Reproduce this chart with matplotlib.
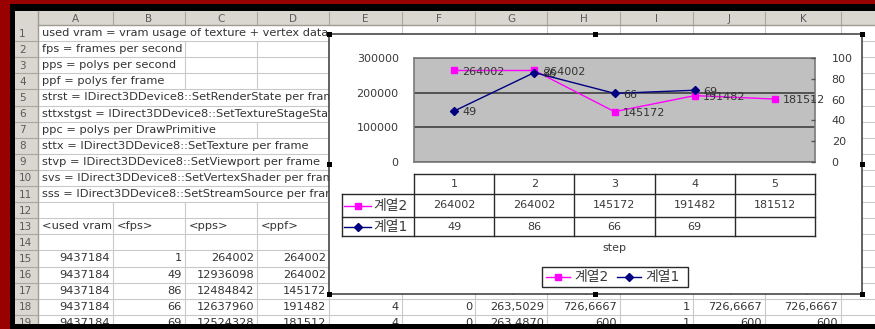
import matplotlib
matplotlib.use("Agg")
import matplotlib.pyplot as plt
from matplotlib.patches import Rectangle
from matplotlib.ticker import FuncFormatter

plt.rcParams["font.family"] = ["DejaVu Sans", "Noto Sans CJK KR"]

# ---------------- worksheet contents ----------------
col_letters = ["A", "B", "C", "D", "E", "F", "G", "H", "I", "J", "K"]
notes = [
    "used vram = vram usage of texture + vertex data",
    "fps = frames per second",
    "pps = polys per second",
    "ppf = polys fer frame",
    "strst = IDirect3DDevice8::SetRenderState per frame",
    "sttxstgst = IDirect3DDevice8::SetTextureStageState per frame",
    "ppc = polys per DrawPrimitive",
    "sttx = IDirect3DDevice8::SetTexture per frame",
    "stvp = IDirect3DDevice8::SetViewport per frame",
    "svs = IDirect3DDevice8::SetVertexShader per frame",
    "sss = IDirect3DDevice8::SetStreamSource per frame",
]
headers = ["<used vram", "<fps>", "<pps>", "<ppf>"]
used_vram = [9437184, 9437184, 9437184, 9437184, 9437184]
fps = [1, 49, 86, 66, 69]
pps = [264002, 12936098, 12484842, 12637960, 12524328]
ppf = [264002, 264002, 145172, 191482, 181512]
row17_rest = ["4", "0", "263,4998", "726,6667", "1", "726,6667", "726,6667"]
row18_rest = ["4", "0", "263,5029", "726,6667", "1", "726,6667", "726,6667"]
row19_rest = ["4", "0", "263,4870", "600", "1", "600", "600"]

# ---------------- chart contents ----------------
steps = [1, 2, 3, 4, 5]
series2_name = "계열2"
series1_name = "계열1"
series2 = [264002, 264002, 145172, 191482, 181512]
series1 = [49, 86, 66, 69]
left_ticks = [0, 100000, 200000, 300000]
right_ticks = [0, 20, 40, 60, 80, 100]
x_title = "step"

W, H = 875, 329
fig = plt.figure(figsize=(W / 100, H / 100), dpi=100)
fig.patch.set_facecolor("#990000")
bg = fig.add_axes([0, 0, 1, 1])
bg.set_xlim(0, W)
bg.set_ylim(H, 0)
bg.axis("off")


def frac(x0, y0, x1, y1):
    return [x0 / W, 1 - y1 / H, (x1 - x0) / W, (y1 - y0) / H]


# window frame
bg.add_patch(Rectangle((10, 4), W, H, fc="black", ec="none", zorder=0))
sheet_l, sheet_t, sheet_b = 15, 11, 324
bg.add_patch(Rectangle((sheet_l, sheet_t), W - sheet_l, sheet_b - sheet_t,
                       fc="white", ec="none", zorder=0.5))

col_edges = [38, 113, 185, 257, 329, 402, 475, 547, 620, 693, 765, 841]
hdr_b = 25
row_h = 16.1
n_rows = 19


def row_top(n):
    return hdr_b + (n - 1) * row_h


def row_mid(n):
    return hdr_b + (n - 0.5) * row_h


TXT = "#333333"
FS = 8.2

# header bars
hdr_col = "#dad7d1"
bg.add_patch(Rectangle((sheet_l, sheet_t), W, hdr_b - sheet_t, fc=hdr_col, ec="none", zorder=1))
bg.add_patch(Rectangle((sheet_l, sheet_t), col_edges[0] - sheet_l, sheet_b - sheet_t,
                       fc=hdr_col, ec="none", zorder=1))
for i, letter in enumerate(col_letters):
    l, r = col_edges[i], col_edges[i + 1]
    bg.text((l + r) / 2, (sheet_t + hdr_b) / 2 + 0.5, letter, ha="center", va="center",
            fontsize=7.5, color="#5a5a5a", zorder=2)
    bg.plot([r, r], [sheet_t + 1, hdr_b - 1], color="#aaa69e", lw=0.8, zorder=2)
bg.plot([col_edges[0], W], [hdr_b, hdr_b], color="#9f9b93", lw=1, zorder=2)
bg.plot([col_edges[0], col_edges[0]], [sheet_t, sheet_b], color="#9f9b93", lw=1, zorder=2)
for n in range(1, n_rows + 1):
    bg.text(19, row_mid(n) + 0.5, str(n), ha="left", va="center", fontsize=7.5,
            color="#5a5a5a", zorder=2)
    bg.plot([sheet_l, col_edges[0]], [row_top(n) + row_h] * 2, color="#aaa69e", lw=0.8, zorder=2)

# cell text
note_texts = []
for i, s in enumerate(notes):
    t = bg.text(col_edges[0] + 4, row_mid(i + 1), s, ha="left", va="center",
                fontsize=FS, color=TXT, zorder=3)
    note_texts.append(t)

for j, s in enumerate(headers):
    bg.text(col_edges[j] + 4, row_mid(13), s, ha="left", va="center",
            fontsize=FS, color=TXT, zorder=3)

for k in range(5):
    n = 15 + k
    for j, col in enumerate([used_vram, fps, pps, ppf]):
        bg.text(col_edges[j + 1] - 3, row_mid(n), str(col[k]), ha="right", va="center",
                fontsize=FS, color=TXT, zorder=3)

for n, rest in [(17, row17_rest), (18, row18_rest), (19, row19_rest)]:
    for j, s in enumerate(rest):
        bg.text(col_edges[j + 5] - 3, row_mid(n), s, ha="right", va="center",
                fontsize=FS, color=TXT, zorder=3)

# gridlines (hidden where long text spills over)
fig.canvas.draw()
renderer = fig.canvas.get_renderer()
spill = {}
for i, t in enumerate(note_texts):
    spill[i + 1] = t.get_window_extent(renderer).x1
GRID = "#c9c9c9"
for n in range(1, n_rows + 1):
    y = row_top(n) + row_h
    bg.plot([col_edges[0], W], [y, y], color=GRID, lw=0.8, zorder=1.5)
    for e in col_edges[1:]:
        if n in spill and e < spill[n] + 2:
            continue
        bg.plot([e, e], [row_top(n), row_top(n) + row_h], color=GRID, lw=0.8, zorder=1.5)

# bottom frame edge
bg.add_patch(Rectangle((10, sheet_b), W, H - sheet_b, fc="black", ec="none", zorder=4))

# ---------------- embedded chart ----------------
cx0, cy0, cx1, cy1 = 329, 34, 862, 294
bg.add_patch(Rectangle((cx0, cy0), cx1 - cx0, cy1 - cy0, fc="white", ec="#383838",
                       lw=1.1, zorder=5))
cmx, cmy = 595, (cy0 + cy1) / 2
for hx, hy in [(cx0, cy0), (cmx, cy0), (cx1, cy0), (cx0, cmy), (cx1, cmy),
               (cx0, cy1), (cmx, cy1), (cx1, cy1)]:
    bg.add_patch(Rectangle((hx - 2.5, hy - 2.5), 5, 5, fc="black", ec="none", zorder=9))

px0, py0, px1, py1 = 414, 58, 815, 162
ax = fig.add_axes(frac(px0, py0, px1, py1))
ax.set_facecolor("#c0c0c0")
ax.set_xlim(0.5, 5.5)
ax.set_ylim(0, 300000)
ax.set_yticks(left_ticks)
ax.yaxis.set_major_formatter(FuncFormatter(lambda v, p: f"{int(v)}"))
ax.set_xticks([])
ax.tick_params(axis="y", length=0, pad=11, labelsize=8, labelcolor="#3a3a3a")
ax.grid(axis="y", color="#4a4a4a", lw=1.3)
ax.set_axisbelow(True)
for sp in ax.spines.values():
    sp.set_color("#7a7a7a")
    sp.set_linewidth(1.2)

ax2 = ax.twinx()
ax2.set_ylim(0, 100)
ax2.set_yticks(right_ticks)
ax2.tick_params(axis="y", direction="in", length=3, width=1, color="#555555", pad=12,
                labelsize=8, labelcolor="#3a3a3a")
for sp in ax2.spines.values():
    sp.set_visible(False)

MAG = "#ff00ff"
NAVY = "#000080"
ax.plot(steps, series2, color=MAG, lw=1, marker="s", ms=4, mec=MAG, mfc=MAG, zorder=3)
for x, v in zip(steps, series2):
    ax.annotate(str(v), (x, v), xytext=(6, -1), textcoords="offset points", va="center",
                ha="left", fontsize=8, color="#333333", zorder=4)
ax2.plot(steps[:len(series1)], series1, color=NAVY, lw=1, marker="D", ms=4, mec=NAVY,
         mfc=NAVY, zorder=3)
for x, v in zip(steps, series1):
    ax2.annotate(str(v), (x, v), xytext=(6, -1), textcoords="offset points", va="center",
                 ha="left", fontsize=8, color="#333333", zorder=4)

# data table under the plot area
fig.canvas.draw()
edges_px = [ax.transData.transform((s - 0.5, 0))[0] for s in steps] + \
           [ax.transData.transform((steps[-1] + 0.5, 0))[0]]
centers_px = [ax.transData.transform((s, 0))[0] for s in steps]
t0, t1, t2, t3 = 174, 194, 217, 236
key_l = 342
LC = "#2a2a2a"
Z = 7
bg.plot([edges_px[0], edges_px[-1]], [t0, t0], color=LC, lw=1, zorder=Z)
for y in (t1, t2, t3):
    bg.plot([key_l, edges_px[-1]], [y, y], color=LC, lw=1, zorder=Z)
for e in edges_px:
    bg.plot([e, e], [t0, t3], color=LC, lw=1, zorder=Z)
bg.plot([key_l, key_l], [t1, t3], color=LC, lw=1, zorder=Z)

for s, cx in zip(steps, centers_px):
    bg.text(cx, (t0 + t1) / 2, str(s), ha="center", va="center", fontsize=8,
            color="#3a3a3a", zorder=Z)
for v, cx in zip(series2, centers_px):
    bg.text(cx, (t1 + t2) / 2, str(v), ha="center", va="center", fontsize=8,
            color="#3a3a3a", zorder=Z)
for v, cx in zip(series1, centers_px):
    bg.text(cx, (t2 + t3) / 2, str(v), ha="center", va="center", fontsize=8,
            color="#3a3a3a", zorder=Z)

for (ym, col, mk, name) in [((t1 + t2) / 2, MAG, "s", series2_name),
                            ((t2 + t3) / 2, NAVY, "D", series1_name)]:
    bg.plot([344, 371], [ym, ym], color=col, lw=1, zorder=Z)
    bg.plot([357.5], [ym], marker=mk, color=col, ms=4, zorder=Z)
    bg.text(373, ym + 0.5, name, ha="left", va="center", fontsize=10, color="#3a3a3a", zorder=Z)

bg.text(centers_px[2], 248, x_title, ha="center", va="center", fontsize=8,
        color="#3a3a3a", zorder=Z)

# legend
lx0, ly0, lx1, ly1 = 542, 267, 688, 287
bg.add_patch(Rectangle((lx0, ly0), lx1 - lx0, ly1 - ly0, fc="white", ec=LC, lw=1, zorder=Z))
lym = (ly0 + ly1) / 2
for (x0, col, mk, name) in [(546, MAG, "s", series2_name), (617, NAVY, "D", series1_name)]:
    bg.plot([x0, x0 + 24], [lym, lym], color=col, lw=1, zorder=Z + 1)
    bg.plot([x0 + 12], [lym], marker=mk, color=col, ms=4, zorder=Z + 1)
    bg.text(x0 + 28, lym + 0.5, name, ha="left", va="center", fontsize=10,
            color="#3a3a3a", zorder=Z + 1)

fig.savefig("out.png", dpi=100, facecolor=fig.get_facecolor())
